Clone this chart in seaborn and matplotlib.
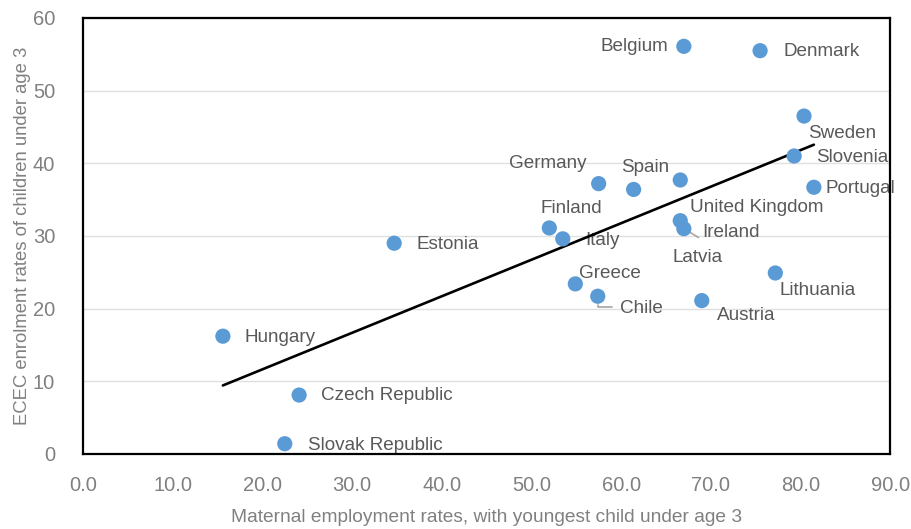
import numpy as np
import pandas as pd
import matplotlib
matplotlib.use("Agg")
import matplotlib.pyplot as plt
import seaborn as sns

countries = ["Belgium", "Denmark", "Sweden", "Slovenia", "Portugal", "Germany", "Spain",
             "United Kingdom", "Latvia", "Ireland", "Finland", "Italy", "Greece", "Chile",
             "Austria", "Lithuania", "Estonia", "Hungary", "Czech Republic", "Slovak Republic"]
maternal_employment = [67.0, 75.5, 80.4, 79.3, 81.5, 57.5, 61.4,
                       66.6, 66.6, 67.0, 52.0, 53.5, 54.9, 57.4,
                       69.0, 77.2, 34.7, 15.6, 24.1, 22.5]
ecec_enrolment = [56.1, 55.5, 46.5, 41.0, 36.7, 37.2, 36.4,
                  37.7, 32.1, 31.0, 31.1, 29.6, 23.4, 21.7,
                  21.1, 24.9, 29.0, 16.2, 8.1, 1.4]
x_ticks = [0, 10, 20, 30, 40, 50, 60, 70, 80, 90]
x_tick_labels = ["0.0", "10.0", "20.0", "30.0", "40.0", "50.0", "60.0", "70.0", "80.0", "90.0"]
y_ticks = [0, 10, 20, 30, 40, 50, 60]

df = pd.DataFrame({"country": countries, "x": maternal_employment, "y": ecec_enrolment})

# label placement (pixel offsets from marker centre: dx right, dy up, horizontal alignment)
label_pos = {
    "Belgium": (-16, 0, "right"), "Denmark": (23, -1, "left"), "Sweden": (4, -17, "left"),
    "Slovenia": (22, -1, "left"), "Portugal": (12, -1, "left"), "Germany": (-51, 20, "center"),
    "Spain": (12, 22, "center"), "United Kingdom": (10, -28, "left"), "Latvia": (-8, -37, "left"),
    "Ireland": (18, -4, "left"), "Finland": (22, 19, "center"), "Italy": (22, -2, "left"),
    "Greece": (4, 10, "left"), "Chile": (22, -12, "left"), "Austria": (15, -15, "left"),
    "Lithuania": (4, -18, "left"), "Estonia": (22, -1, "left"), "Hungary": (22, -1, "left"),
    "Czech Republic": (22, 0, "left"), "Slovak Republic": (23, -2, "left"),
}

sns.set_theme(style="white")
plt.rcParams["font.family"] = ["Liberation Sans", "DejaVu Sans"]

fig = plt.figure(figsize=(9.12, 5.29), dpi=100)
ax = fig.add_axes([0.091, 0.142, 0.885, 0.824])

ax.set_axisbelow(True)
ax.yaxis.grid(True, color="#e0e0e0", linewidth=1.0)
ax.xaxis.grid(False)

sns.scatterplot(data=df, x="x", y="y", ax=ax, s=120, color="#5b9bd5",
                edgecolor="none", linewidth=0, zorder=4, legend=False)

# linear trend line across the range of the data
coef = np.polyfit(df["x"], df["y"], 1)
xs = np.array([df["x"].min(), df["x"].max()])
ax.plot(xs, np.polyval(coef, xs), color="black", linewidth=1.9, zorder=3)

px = 0.72  # pixels -> points at 100 dpi
for c, xv, yv in zip(countries, maternal_employment, ecec_enrolment):
    dx, dy, ha = label_pos[c]
    kw = {}
    if c == "Ireland":
        kw["arrowprops"] = dict(arrowstyle="-", color="#a6a6a6", lw=1.2, shrinkA=0, shrinkB=3,
                                relpos=(0.0, 0.1))
    if c == "Chile":
        kw["arrowprops"] = dict(arrowstyle="-", color="#a6a6a6", lw=1.2, shrinkA=3, shrinkB=6,
                                connectionstyle="angle,angleA=0,angleB=90,rad=0",
                                relpos=(0.0, 0.6))
    ax.annotate(c, (xv, yv), xytext=(dx * px, dy * px), textcoords="offset points",
                ha=ha, va="center", fontsize=13.6, color="#595959", zorder=2, **kw)

ax.set_xlim(0, 90)
ax.set_ylim(0, 60)
ax.set_xticks(x_ticks)
ax.set_xticklabels(x_tick_labels)
ax.set_yticks(y_ticks)
for lab in ax.get_xticklabels() + ax.get_yticklabels():
    lab.set_fontsize(14.5)
    lab.set_color("#808080")
ax.tick_params(axis="both", direction="in", length=5, width=1.2, color="black")
ax.tick_params(axis="x", pad=16)
ax.tick_params(axis="y", pad=20)

for side in ["left", "right", "top", "bottom"]:
    ax.spines[side].set_visible(True)
    ax.spines[side].set_color("black")
    ax.spines[side].set_linewidth(1.6)

ax.set_xlabel("Maternal employment rates, with youngest child under age 3",
              fontsize=13.8, color="#808080", labelpad=10)
ax.set_ylabel("ECEC enrolment rates of children under age 3",
              fontsize=13.3, color="#808080", labelpad=1)

fig.savefig("out.png", dpi=100)
